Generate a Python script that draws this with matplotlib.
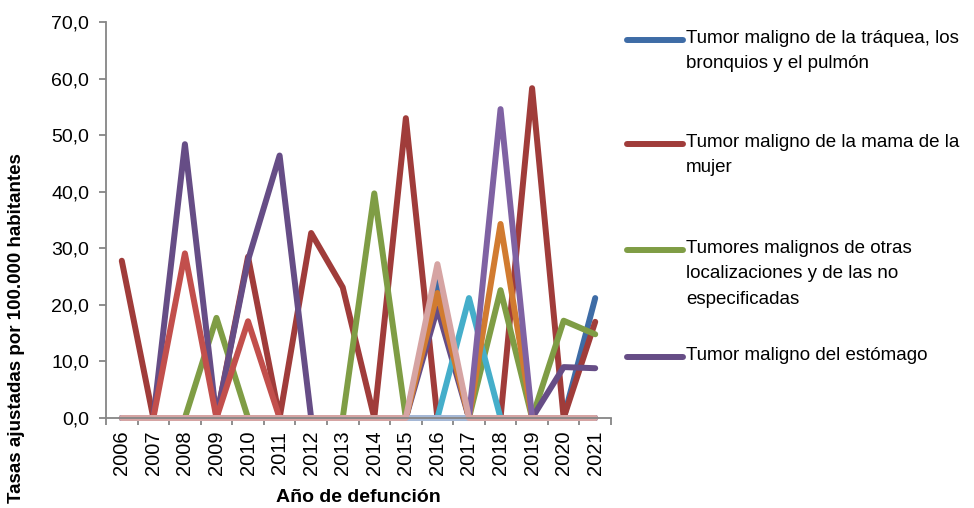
import matplotlib
matplotlib.use("Agg")
import matplotlib.pyplot as plt
from matplotlib.lines import Line2D
from matplotlib.ticker import FixedLocator, FuncFormatter

plt.rcParams['font.family'] = ['Liberation Sans', 'DejaVu Sans']

years = [str(y) for y in range(2006, 2022)]

# series values (tasas ajustadas)
traquea = [0, 0, 0, 0, 0, 0, 0, 0, 0, 0, 24.1, 0, 0, 0, 0, 21.2]
mama = [27.8, 0, 0, 0, 28.5, 0, 32.7, 23.1, 0, 53.0, 0, 0, 0, 58.3, 0, 17.0]
otras = [0, 0, 0, 17.7, 0, 0, 0, 0, 39.7, 0, 0, 0, 22.6, 0, 17.2, 14.8]
estomago = [0, 0, 48.4, 0, 27.9, 46.4, 0, 0, 0, 0, 19.4, 0, 0, 0, 9.0, 8.8]
serie5 = [0, 0, 0, 0, 0, 0, 0, 0, 0, 0, 0, 21.2, 0, 0, 0, 0]
serie6 = [0, 0, 0, 0, 0, 0, 0, 0, 0, 0, 22.1, 0, 34.3, 0, 0, 0]
serie7 = [0, 0, 29.1, 0, 17.1, 0, 0, 0, 0, 0, 0, 0, 0, 0, 0, 0]
serie8 = [0, 0, 0, 0, 0, 0, 0, 0, 0, 0, 0, 0, 54.6, 0, 0, 0]
serie9 = [0] * 16
serie10 = [0, 0, 0, 0, 0, 0, 0, 0, 0, 0, 27.2, 0, 0, 0, 0, 0]

labels = [
    'Tumor maligno de la tráquea, los\nbronquios y el pulmón',
    'Tumor maligno de la mama de la\nmujer',
    'Tumores malignos de otras\nlocalizaciones y de las no\nespecificadas',
    'Tumor maligno del estómago',
]

series = [traquea, mama, otras, estomago, serie5, serie6, serie7, serie8, serie9, serie10]
colors = ['#3E6CA6', '#A03C3A', '#7F9D45', '#664D86', '#45AECA', '#D17B30',
          '#C24F4C', '#7F62A3', '#A6B9D6', '#D6A4A3']

fig = plt.figure(figsize=(9.74, 5.08), dpi=100)
ax = fig.add_axes([106 / 974, 1 - 418 / 508, 505 / 974, 396 / 508])

x = list(range(len(years)))
for vals, c in zip(series, colors):
    ax.plot(x, vals, color=c, lw=4.3, solid_capstyle='round', solid_joinstyle='round',
            clip_on=False)

ax.set_xlim(-0.5, len(years) - 0.5)
ax.set_ylim(0, 70)

gray = '#868686'
for s in ['top', 'right']:
    ax.spines[s].set_visible(False)
for s in ['left', 'bottom']:
    ax.spines[s].set_color(gray)
    ax.spines[s].set_linewidth(1.3)

ax.set_yticks(range(0, 71, 10))
ax.yaxis.set_major_formatter(FuncFormatter(lambda v, p: f'{v:.1f}'.replace('.', ',')))
ax.tick_params(axis='y', length=5, width=1.3, color=gray, labelsize=14, pad=7)

ax.set_xticks(x)
ax.set_xticklabels(years, rotation=90)
ax.xaxis.set_minor_locator(FixedLocator([i - 0.5 for i in range(len(years) + 1)]))
ax.tick_params(axis='x', which='major', length=0, labelsize=14.5, pad=9)
ax.tick_params(axis='x', which='minor', length=5, width=1.3, color=gray)

fig.text(17 / 974, 1 - 328 / 508, 'Tasas ajustadas por 100.000 habitantes', rotation=90,
         ha='center', va='center', fontsize=13.5, fontweight='bold')
fig.text(358 / 974, 1 - 497 / 508, 'Año de defunción', ha='center', va='center',
         fontsize=14, fontweight='bold')

# legend drawn by hand: handle sits on the first text line
leg_y = [40, 144, 250, 357]
for lab, c, yy in zip(labels, colors[:4], leg_y):
    fy = 1 - yy / 508
    fig.add_artist(Line2D([627 / 974, 683 / 974], [fy, fy], transform=fig.transFigure,
                          color=c, lw=4.3, solid_capstyle='round'))
    fig.text(686 / 974, 1 - (yy - 10) / 508, lab, ha='left', va='top', fontsize=13.5,
             linespacing=1.65)

fig.savefig('out.png', dpi=100)
